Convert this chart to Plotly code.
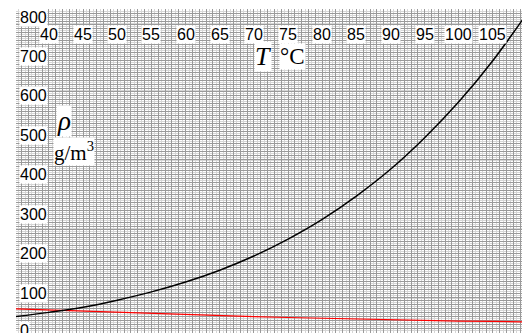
import plotly.graph_objects as go

temps = [35, 40, 45, 50, 55, 60, 65, 70, 75, 80, 85, 90, 95, 100, 105, 110]
rho_sat = [40, 51, 64, 82, 103, 128, 158, 194, 237, 287, 346, 414, 494, 585, 690, 810]
rho_red = [60, 57, 55, 52, 49, 46, 43, 40, 38, 36, 34, 32, 30, 29, 28, 27]

x_tick_labels = [40, 45, 50, 55, 60, 65, 70, 75, 80, 85, 90, 95, 100, 105]
y_tick_labels = [0, 100, 200, 300, 400, 500, 600, 700, 800]

fig = go.Figure()
fig.add_trace(go.Scatter(x=temps, y=rho_red, mode="lines",
                         line=dict(color="red", width=1.2), hoverinfo="skip"))
fig.add_trace(go.Scatter(x=temps, y=rho_sat, mode="lines", line_shape="spline",
                         line=dict(color="black", width=1.5), hoverinfo="skip"))

sans = "Liberation Sans, Arial, sans-serif"
serif = "Liberation Serif, Times New Roman, serif"

for t in x_tick_labels:
    fig.add_annotation(x=t, y=757, text=str(t), showarrow=False,
                       font=dict(family=sans, size=16, color="black"),
                       bgcolor="white", borderpad=0, xanchor="center", yanchor="middle")
for v in y_tick_labels:
    fig.add_annotation(x=35.6, y=v + 6 if v == 0 else v, text=str(v), showarrow=False,
                       font=dict(family=sans, size=16, color="black"),
                       bgcolor="white", borderpad=0, xanchor="left", yanchor="middle")

# axis titles in white boxes
fig.add_annotation(x=71.3, y=700, text="T", showarrow=False,
                   font=dict(family=serif, size=26, color="black", style="italic"),
                   bgcolor="white", borderpad=0, xanchor="center", yanchor="middle")
fig.add_annotation(x=75.6, y=700, text="°C", showarrow=False,
                   font=dict(family=serif, size=23, color="black"),
                   bgcolor="white", borderpad=0, xanchor="center", yanchor="middle")
fig.add_annotation(x=42.2, y=537, text="ρ", showarrow=False,
                   font=dict(family=serif, size=27, color="black", style="italic"),
                   bgcolor="white", borderpad=0, xanchor="center", yanchor="middle")
fig.add_annotation(x=43.6, y=458, text="g/m<sup>3</sup>",
                   showarrow=False,
                   font=dict(family=serif, size=21, color="black"),
                   bgcolor="white", borderpad=0, xanchor="center", yanchor="middle")

fig.update_xaxes(range=[35.17, 109.25], dtick=1, tick0=0, showgrid=True,
                 gridcolor="#9a9a9a", gridwidth=1, showticklabels=False, zeroline=False,
                 minor=dict(dtick=0.5, showgrid=True, gridcolor="#d6d6d6", gridwidth=1),
                 fixedrange=True)
fig.update_yaxes(range=[-1.3, 820.5], dtick=10, tick0=0, showgrid=True,
                 gridcolor="#9a9a9a", gridwidth=1, showticklabels=False, zeroline=False,
                 minor=dict(dtick=5, showgrid=True, gridcolor="#d6d6d6", gridwidth=1),
                 fixedrange=True)

fig.update_layout(width=522, height=333, margin=dict(l=16, r=0, t=9, b=0),
                  paper_bgcolor="white", plot_bgcolor="white", showlegend=False)

fig.write_html("out.html", config={"displayModeBar": False},
               post_script="document.body.style.margin='0';document.body.style.overflow='hidden';")
